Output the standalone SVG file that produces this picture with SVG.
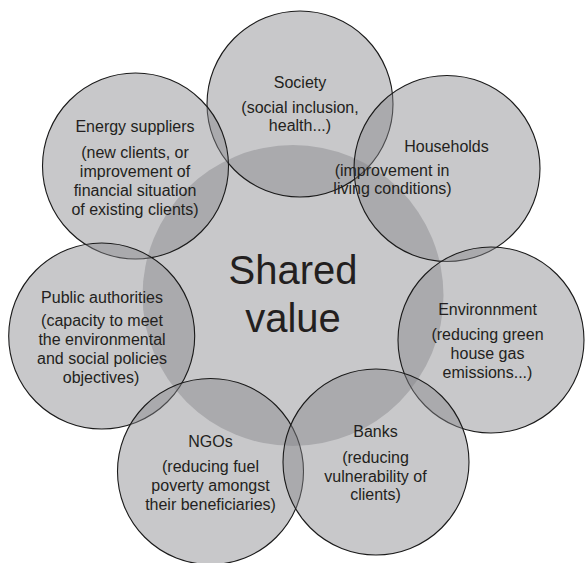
<svg xmlns="http://www.w3.org/2000/svg" width="586" height="563" viewBox="0 0 586 563">
<style>
.core{fill:#86878a;fill-opacity:0.455;stroke:none}
.bubble{fill:#86878a;fill-opacity:0.455;stroke:#1a1a1a;stroke-width:1.1}
text{font-family:"Liberation Sans",Arial,Helvetica,sans-serif;fill:#231f20;text-anchor:middle}
.t{font-size:16px}
.big{font-size:40px}
</style>
<rect width="586" height="563" fill="#ffffff"/>
<g id="shared-value">
<circle class="core" cx="293" cy="295.5" r="150.5"/>
<text class="big" x="293" y="284">Shared</text>
<text class="big" x="293" y="332">value</text>
</g>
<g id="society">
<circle class="bubble" cx="300" cy="104" r="93"/>
<text class="t" x="300" y="88">Society</text>
<text class="t" x="300" y="112.5">(social inclusion,</text>
<text class="t" x="300" y="130.5">health...)</text>
</g>
<g id="energy-suppliers">
<circle class="bubble" cx="135.5" cy="166" r="93"/>
<text class="t" x="135" y="132">Energy suppliers</text>
<text class="t" x="135" y="157.5">(new clients, or</text>
<text class="t" x="135" y="176.5">improvement of</text>
<text class="t" x="135" y="195.5">financial situation</text>
<text class="t" x="135" y="214.5">of existing clients)</text>
</g>
<g id="households">
<circle class="bubble" cx="447" cy="168.5" r="93"/>
<text class="t" x="446.5" y="152">Households</text>
<text class="t" x="392" y="175.5">(improvement in</text>
<text class="t" x="392.5" y="194">living conditions)</text>
</g>
<g id="public-authorities">
<circle class="bubble" cx="101.7" cy="336" r="93"/>
<text class="t" x="102" y="302.5">Public authorities</text>
<text class="t" x="102" y="326">(capacity to meet</text>
<text class="t" x="102" y="345">the environmental</text>
<text class="t" x="102" y="364">and social policies</text>
<text class="t" x="101" y="383">objectives)</text>
</g>
<g id="environment">
<circle class="bubble" cx="491" cy="340" r="93"/>
<text class="t" x="487.5" y="315">Environnment</text>
<text class="t" x="487.5" y="340">(reducing green</text>
<text class="t" x="487.5" y="359">house gas</text>
<text class="t" x="487.5" y="378">emissions...)</text>
</g>
<g id="ngos">
<circle class="bubble" cx="210.5" cy="471.5" r="93"/>
<text class="t" x="210.5" y="447">NGOs</text>
<text class="t" x="210.5" y="472">(reducing fuel</text>
<text class="t" x="210.5" y="491">poverty amongst</text>
<text class="t" x="210.5" y="510">their beneficiaries)</text>
</g>
<g id="banks">
<circle class="bubble" cx="376" cy="462" r="93"/>
<text class="t" x="375.5" y="437">Banks</text>
<text class="t" x="375.5" y="462.5">(reducing</text>
<text class="t" x="375.5" y="481.5">vulnerability of</text>
<text class="t" x="375.5" y="500">clients)</text>
</g>
<g id="connectors"></g>
</svg>
